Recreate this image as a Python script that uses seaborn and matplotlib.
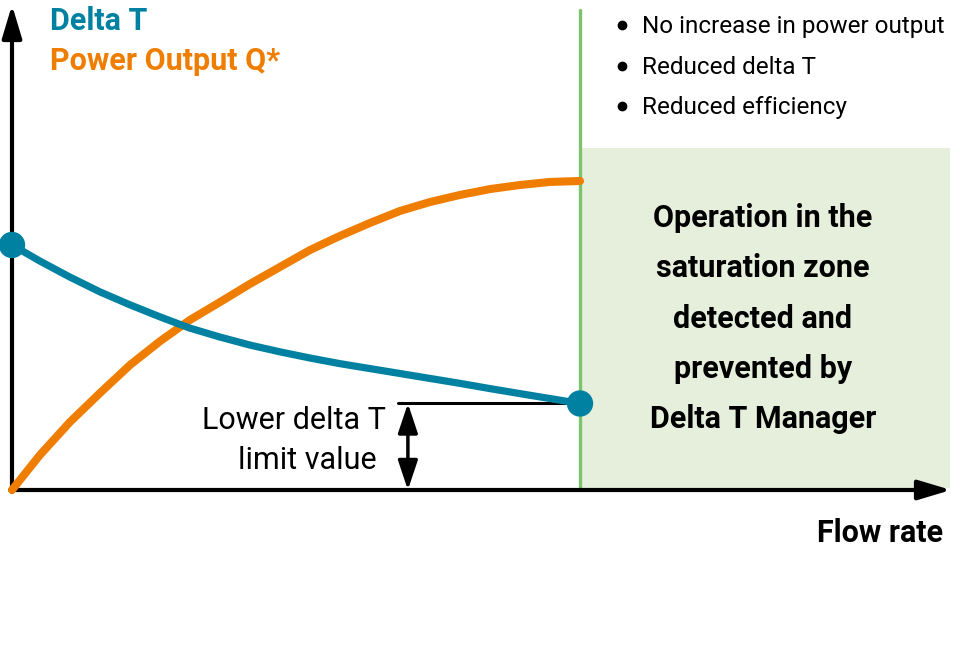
import matplotlib
matplotlib.use("Agg")
import matplotlib.pyplot as plt
import seaborn as sns
import pandas as pd
from matplotlib.patches import Rectangle

sns.set_theme(style="white")
plt.rcParams['font.family'] = ['Roboto', 'DejaVu Sans']

# flow rate in % of the saturation point, values in % of max power output
flow = [0, 4.9, 10.2, 15.5, 20.8, 26.1, 31.3, 36.6, 41.9, 47.2,
        52.5, 57.7, 63.0, 68.3, 73.6, 78.9, 84.2, 89.4, 94.7, 100]
power = [0, 11.3, 22.0, 31.4, 40.5, 48.2, 55.0, 60.8, 66.7, 72.2,
         77.7, 82.2, 86.4, 90.3, 93.2, 95.5, 97.4, 98.7, 99.7, 100]
delta_t = [79.3, 74.1, 68.9, 64.1, 59.9, 56.0, 52.4, 49.5, 46.9, 44.7,
           42.7, 40.9, 39.3, 37.7, 36.1, 34.5, 32.8, 31.2, 29.6, 28.0]
limit_value = 28.0
limit_from = 68.0
saturation_flow = 100

bullets = ["No increase in power output", "Reduced delta T", "Reduced efficiency"]
zone_lines = ["Operation in the", "saturation zone", "detected and",
              "prevented by", "Delta T Manager"]

BLUE = "#0081a1"
ORANGE = "#ef7d00"
GREEN = "#7cc46c"
ZONE = "#e5efdc"


# layout helper: picture pixels -> data units (12px = 0 / 580px = 100 ; 490px = 0 / 181px = 100)
def px(x, y):
    return (x - 12) / 5.68, (490 - y) / 3.09


df = pd.DataFrame({'flow': flow, 'power': power, 'delta_t': delta_t})

fig = plt.figure(figsize=(9.6, 6.61), dpi=100)
ax = fig.add_axes([0, 0, 1, 1])
xa, ya = px(0, 661)
xb, yb = px(960, 0)

# saturation zone
zx0, zy0 = px(582, 488)
zx1, zy1 = px(950, 148)
ax.add_patch(Rectangle((zx0, zy0), zx1 - zx0, zy1 - zy0, color=ZONE, lw=0, zorder=0))
ax.plot([saturation_flow, saturation_flow], [0, px(0, 10)[1]], color=GREEN, lw=2.4, zorder=1)

# axes with arrows
arr = dict(arrowstyle='-|>,head_length=1.0,head_width=0.3', mutation_scale=20,
           lw=3, color='black', shrinkA=0, shrinkB=0)
ax.annotate('', xy=px(12, 5), xytext=px(12, 492), arrowprops=arr, zorder=3)
ax.annotate('', xy=px(951, 490), xytext=px(10, 490), arrowprops=arr, zorder=3)

# curves
sns.lineplot(data=df, x='flow', y='power', color=ORANGE, lw=5.8, sort=False,
             estimator=None, ax=ax, zorder=4, solid_joinstyle='round')
sns.lineplot(data=df, x='flow', y='delta_t', color=BLUE, lw=5.2, sort=False,
             estimator=None, ax=ax, zorder=4, solid_joinstyle='round')
sns.scatterplot(x=[flow[0], flow[-1]], y=[delta_t[0], delta_t[-1]], s=360,
                color=BLUE, edgecolor='none', ax=ax, zorder=6)

# lower delta T limit
ax.plot([limit_from, saturation_flow], [limit_value, limit_value], color='black', lw=2.2, zorder=3)
ax.annotate('', xy=(69.7, limit_value), xytext=(69.7, 0),
            arrowprops=dict(arrowstyle='<|-|>,head_length=0.9,head_width=0.3',
                            mutation_scale=20, lw=2.5, color='black', shrinkA=0, shrinkB=0),
            zorder=3)
ax.text(*px(294, 429), "Lower delta T", fontsize=22, ha='center', va='baseline', color='black')
ax.text(*px(307.5, 469), "limit value", fontsize=22, ha='center', va='baseline', color='black')

# legend-like titles
ax.text(*px(50, 30), "Delta T", color=BLUE, fontsize=22, fontweight='bold', va='baseline')
ax.text(*px(50, 70), "Power Output Q*", color=ORANGE, fontsize=22, fontweight='bold', va='baseline')

# bullets
for i, b in enumerate(bullets):
    base = 33 + i * 40.5
    bx, by = px(622, base - 8)
    ax.plot(bx, by, 'o', ms=6, color='black', zorder=5)
    ax.text(*px(642, base), b, fontsize=17.5, ha='left', va='baseline', color='black')

# zone text
for i, line in enumerate(zone_lines):
    ax.text(*px(763, 227 + i * 50.3), line, fontsize=22, fontweight='bold',
            ha='center', va='baseline', color='black')

ax.text(*px(943, 542), "Flow rate", fontsize=22, fontweight='bold', ha='right',
        va='baseline', color='black')

ax.set_xlim(xa, xb)
ax.set_ylim(ya, yb)
ax.axis('off')

fig.savefig('out.png', dpi=100)
